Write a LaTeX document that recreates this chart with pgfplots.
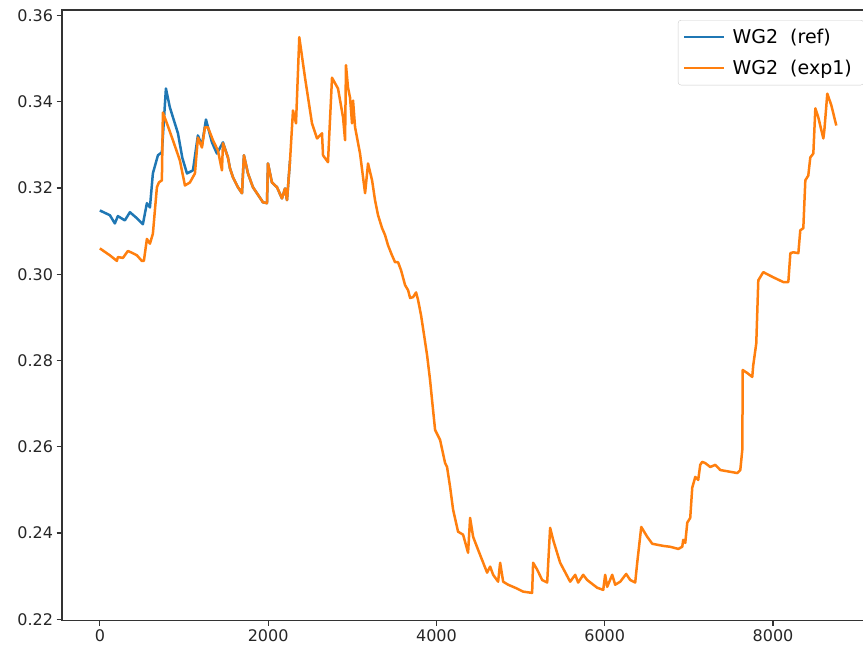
\documentclass[border=0pt]{standalone}
\usepackage{fontspec}
\setmainfont{DejaVu Sans}
\usepackage{pgfplots}
\pgfplotsset{compat=1.18}
\definecolor{mplblue}{HTML}{1F77B4}
\definecolor{mplorange}{HTML}{FF7F0E}
\begin{document}
\begin{tikzpicture}[x=1pt,y=1pt]
\useasboundingbox (0,0) rectangle (863,651);
\begin{axis}[
  at={(62pt,30.5pt)}, anchor=south west,
  scale only axis, width=812pt, height=610.5pt,
  xmin=-450, xmax=9200, ymin=0.2197, ymax=0.3613,
  xtick={0,2000,4000,6000,8000},
  ytick={0.22,0.24,0.26,0.28,0.30,0.32,0.34,0.36},
  scaled ticks=false,
  tick align=outside, xtick pos=left, ytick pos=left,
  major tick length=5.5pt,
  tick style={black!80, line width=1.2pt},
  axis line style={black!80, line width=1.2pt},
  ticklabel style={font=\fontsize{16}{19}\selectfont, text=black!85},
  /pgf/number format/assume math mode=true,
  yticklabel style={/pgf/number format/.cd, fixed, fixed zerofill, precision=2},
  xticklabel style={/pgf/number format/.cd, set thousands separator={}},
  legend style={at={(0.9877,0.9836)}, anchor=north east, draw=black!20,
    rounded corners=3pt, fill=white, fill opacity=0.8, text opacity=1,
    font=\fontsize{19}{23}\selectfont, inner xsep=5pt, inner ysep=7pt, row sep=11pt,
    nodes={inner xsep=7pt}},
  legend cell align=left,
  legend image code/.code={\draw[#1] (0pt,0pt) -- (40pt,0pt);},
]
\addplot[mplblue, line width=2.5pt, line join=round] coordinates {
(0,0.3148) (119,0.3137) (178,0.3118) (214,0.3135) (297,0.3125) (357,0.3144)
(440,0.3130) (511,0.3116) (559,0.3165) (595,0.3155) (630,0.3234) (690,0.3276)
(737,0.3283) (785,0.3431) (832,0.3387) (928,0.3327) (980,0.3270) (1035,0.3234) (1106,0.3241)
(1165,0.3322) (1213,0.3299) (1261,0.3359) (1332,0.3306) (1391,0.3280) (1463,0.3306)
(1522,0.3271) (1546,0.3246) (1582,0.3225) (1641,0.3202) (1689,0.3188) (1712,0.3276)
(1760,0.3234) (1819,0.3202) (1938,0.3167) (1986,0.3165) (1998,0.3257) (2045,0.3213)
(2105,0.3202) (2164,0.3176) (2200,0.3199) (2224,0.3172) (2260,0.3264)
};
\addlegendentry{WG2\ \ (ref)}
\addplot[mplorange, line width=2.5pt, line join=round] coordinates {
(0,0.3060) (119,0.3044) (202,0.3031) (214,0.3040) (274,0.3038) (333,0.3054)
(381,0.3050) (440,0.3044) (499,0.3031) (523,0.3031) (559,0.3082) (595,0.3071)
(630,0.3094) (678,0.3202) (702,0.3213) (737,0.3218) (749,0.3375) (797,0.3350)
(868,0.3311) (951,0.3264) (1011,0.3206) (1070,0.3213) (1130,0.3234) (1165,0.3317)
(1213,0.3294) (1249,0.3341) (1284,0.3341) (1344,0.3311) (1403,0.3287) (1451,0.3241)
(1463,0.3304) (1522,0.3271) (1546,0.3246) (1582,0.3225) (1641,0.3202) (1689,0.3188)
(1712,0.3276) (1760,0.3234) (1819,0.3202) (1938,0.3167) (1986,0.3165) (1998,0.3257)
(2045,0.3213) (2105,0.3202) (2164,0.3176) (2200,0.3199) (2224,0.3172) (2260,0.3264)
(2295,0.3380) (2331,0.3350) (2370,0.3550) (2438,0.3456) (2521,0.3350) (2581,0.3315)
(2640,0.3327) (2652,0.3276) (2711,0.3260) (2759,0.3456) (2795,0.3443) (2830,0.3431)
(2890,0.3364) (2914,0.3311) (2925,0.3485) (2949,0.3433) (2973,0.3410) (2997,0.3350)
(3009,0.3403) (3033,0.3341) (3092,0.3280) (3152,0.3188) (3187,0.3257) (3235,0.3218)
(3270,0.3172) (3306,0.3137) (3354,0.3107) (3389,0.3091) (3425,0.3067) (3472,0.3044)
(3508,0.3028) (3544,0.3028) (3580,0.3009) (3627,0.2975) (3663,0.2963) (3687,0.2945)
(3722,0.2947) (3758,0.2958) (3782,0.2940) (3817,0.2905) (3853,0.2859) (3889,0.2812)
(3924,0.2755) (3948,0.2708) (3984,0.2639) (4043,0.2616) (4103,0.2562) (4126,0.2553)
(4162,0.2507) (4198,0.2454) (4257,0.2403) (4317,0.2396) (4376,0.2354) (4400,0.2435)
(4436,0.2391) (4495,0.2361) (4602,0.2308) (4638,0.2322) (4674,0.2303) (4733,0.2287)
(4757,0.2331) (4793,0.2287) (4852,0.2280) (4959,0.2271) (5030,0.2264) (5137,0.2261)
(5149,0.2331) (5197,0.2315) (5256,0.2291) (5316,0.2285) (5351,0.2412) (5387,0.2384)
(5470,0.2331) (5589,0.2287) (5649,0.2303) (5684,0.2285) (5744,0.2303) (5791,0.2291)
(5910,0.2273) (5982,0.2268) (6005,0.2303) (6029,0.2275) (6089,0.2303) (6124,0.2280)
(6184,0.2287) (6255,0.2305) (6303,0.2291) (6362,0.2285) (6386,0.2331) (6434,0.2414)
(6505,0.2391) (6565,0.2375) (6695,0.2370) (6778,0.2368) (6874,0.2363) (6921,0.2368)
(6933,0.2384) (6957,0.2377) (6981,0.2424) (7016,0.2435) (7040,0.2505) (7076,0.2530)
(7111,0.2523) (7135,0.2558) (7159,0.2565) (7195,0.2562) (7254,0.2553) (7314,0.2558)
(7373,0.2546) (7575,0.2539) (7611,0.2546) (7635,0.2593) (7640,0.2778) (7694,0.2771)
(7753,0.2762) (7765,0.2789) (7801,0.2840) (7825,0.2986) (7884,0.3005) (8003,0.2993)
(8122,0.2982) (8182,0.2982) (8206,0.3049) (8241,0.3051) (8301,0.3049) (8324,0.3102)
(8360,0.3107) (8384,0.3218) (8419,0.3229) (8443,0.3271) (8479,0.3280) (8503,0.3385)
(8538,0.3364) (8598,0.3315) (8610,0.3334) (8645,0.3419) (8693,0.3392) (8752,0.3345)
};
\addlegendentry{WG2\ \ (exp1)}
\end{axis}
\end{tikzpicture}
\end{document}
